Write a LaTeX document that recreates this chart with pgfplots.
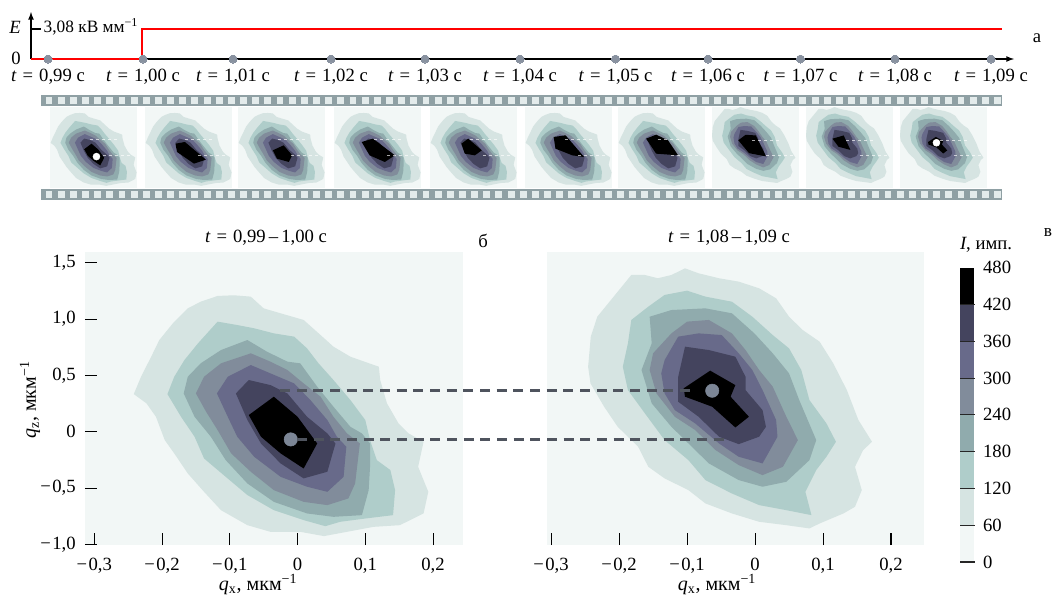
\documentclass[border=0pt]{standalone}
\usepackage{fontspec}
\setmainfont{Liberation Serif}
\usepackage{pgfplots}
\usepackage{pgfplotstable}
\pgfplotsset{compat=1.18}
\definecolor{c0}{HTML}{F2F7F6}
\definecolor{c1}{HTML}{D6E4E2}
\definecolor{c2}{HTML}{AFCDCA}
\definecolor{c3}{HTML}{90ABAD}
\definecolor{c4}{HTML}{818C9B}
\definecolor{c5}{HTML}{686A8A}
\definecolor{c6}{HTML}{44445E}
\definecolor{c7}{HTML}{000000}
\definecolor{stripc}{HTML}{8FA0A4}
\definecolor{squarec}{HTML}{E3EBEB}
\definecolor{dotc}{HTML}{7C8696}
\definecolor{dashc}{HTML}{4F545E}
\newcommand\fs{\fontsize{14}{16}\selectfont}
\newcommand\fl{\fontsize{15}{17}\selectfont}
\newcommand\eq{\hspace{.32em}=\hspace{.32em}}
% left panel contours
\pgfplotstableread{
x y
-.2417 .334
-.231 .488
-.216 .666
-.204 .814
-.184 .962
-.162 1.095
-.143 1.154
-.118 1.205
-.094 1.211
-.069 1.199
-.050 1.095
-.025 1.051
.009 .992
.034 .858
.053 .755
.078 .666
.120 .577
.122 .459
.132 .252
.149 .074
.164 -.015
.186 -.089
.178 -.311
.193 -.533
.186 -.725
.151 -.829
.112 -.844
.073 -.888
.039 -.926
.004 -.888
-.040 -.888
-.074 -.829
-.113 -.696
-.138 -.533
-.162 -.370
-.182 -.192
-.196 -.074
-.209 .133
-.223 .252
}\LA
\pgfplotstableread{
x y
-.192 .334
-.182 .488
-.167 .636
-.147 .784
-.118 .977
-.089 .947
-.064 .918
-.035 .873
-.005 .844
.014 .740
.031 .607
.053 .459
.078 .281
.100 .104
.107 -.074
.117 -.252
.137 -.340
.144 -.518
.141 -.740
.100 -.770
.063 -.799
.041 -.838
.009 -.784
-.035 -.696
-.074 -.562
-.106 -.400
-.138 -.237
-.152 -.044
-.172 .133
}\LB
\pgfplotstableread{
x y
-.168 .340
-.162 .488
-.143 .607
-.113 .725
-.074 .814
-.045 .710
-.015 .622
.004 .607
.029 .400
.053 .222
.078 .044
.095 -.015
.107 -.104
.107 -.311
.105 -.518
.095 -.740
.053 -.755
.014 -.725
-.035 -.622
-.074 -.459
-.106 -.252
-.128 -.044
-.152 .133
}\LC
\pgfplotstableread{
x y
-.150 .340
-.138 .488
-.113 .607
-.069 .696
-.040 .622
-.015 .548
.009 .429
.034 .311
.053 .133
.073 -.015
.092 -.104
.085 -.459
.075 -.592
.044 -.651
.009 -.622
-.035 -.518
-.069 -.355
-.098 -.192
-.118 .015
-.135 .178
}\LD
\pgfplotstableread{
x y
-.119 .340
-.103 .488
-.069 .592
-.040 .518
-.005 .429
.019 .281
.044 .104
.058 -.044
.072 -.133
.068 -.400
.044 -.533
.014 -.488
-.025 -.400
-.064 -.222
-.089 -.044
-.103 .133
}\LE
\pgfplotstableread{
x y
-.091 .340
-.072 .459
-.040 .414
-.015 .340
.014 .133
.044 -.015
.056 -.104
.044 -.355
.009 -.414
-.025 -.281
-.054 -.104
-.074 .104
}\LF
\pgfplotstableread{
x y
-.072 .148
-.035 .311
0 .133
.029 -.104
.009 -.326
-.025 -.192
-.054 -.044
}\LG
% right panel contours
\pgfplotstableread{
x y
-.2455 .577
-.2416 .844
-.232 1.021
-.212 1.169
-.182 1.391
-.162 1.391
-.143 1.362
-.123 1.391
-.103 1.450
-.083 1.406
-.053 1.362
-.024 1.332
.006 1.273
.031 1.184
.050 1.021
.070 .903
.095 .799
.115 .607
.135 .370
.152 .104
.172 -.089
.159 -.163
.147 -.311
.157 -.518
.147 -.666
.130 -.725
.095 -.814
.080 -.858
.046 -.829
.006 -.799
-.034 -.725
-.073 -.636
-.098 -.518
-.133 -.414
-.157 -.311
-.172 -.133
-.202 .044
-.222 .222
-.242 .429
}\RA
\pgfplotstableread{
x y
-.1945 .577
-.187 .784
-.182 .992
-.157 1.110
-.133 1.214
-.100 1.252
-.073 1.199
-.034 1.154
-.004 1.021
.026 .858
.050 .740
.068 .548
.080 .281
.105 .074
.119 -.089
.105 -.222
.090 -.340
.074 -.533
.083 -.740
.046 -.696
.006 -.651
-.034 -.548
-.073 -.429
-.098 -.252
-.133 -.074
-.162 .163
-.187 .370
}\RB
\pgfplotstableread{
x y
-.167 .548
-.152 .784
-.155 1.021
-.123 1.080
-.073 1.095
-.034 1.051
-.001 .873
.026 .696
.050 .518
.065 .281
.090 -.074
.080 -.252
.046 -.444
.011 -.488
-.024 -.429
-.068 -.281
-.093 -.133
-.123 .044
-.152 .252
}\RC
\pgfplotstableread{
x y
-.155 .548
-.150 .696
-.123 .873
-.100 .977
-.068 .992
-.034 .873
-.014 .725
.006 .548
.026 .400
.046 .133
.063 -.074
.041 -.311
.011 -.385
-.024 -.296
-.058 -.163
-.088 .015
-.118 .133
-.145 .340
}\RD
\pgfplotstableread{
x y
-.138 .518
-.133 .636
-.113 .844
-.083 .873
-.049 .858
-.024 .696
-.004 .548
.011 .370
.031 .104
.033 -.044
.011 -.281
-.024 -.222
-.053 -.104
-.088 .074
-.118 .192
-.133 .340
}\RE
\pgfplotstableread{
x y
-.103 .755
-.068 .725
-.029 .666
-.014 .488
-.014 .370
.011 .192
.016 .044
.006 -.044
-.024 -.110
-.053 -.044
-.083 .133
-.113 .266
-.113 .488
}\RF
\pgfplotstableread{
x y
-.105 .385
-.066 .542
-.029 .414
-.036 .311
-.009 .133
-.029 .038
-.063 .222
-.103 .311
}\RG
% black cores of the middle film frames
\pgfplotstableread{
x y
-.091 .311
-.043 .360
.063 -.158
.003 -.275
-.083 .067
}\FB
\pgfplotstableread{
x y
-.069 .116
-.014 .262
.029 -.031
.012 -.226
-.048 -.128
}\FC
\pgfplotstableread{
x y
-.105 .360
-.048 .458
.063 -.031
.012 -.226
-.065 -.031
}\FD
\pgfplotstableread{
x y
-.086 .311
-.052 .458
.017 .116
-.018 -.031
-.069 .018
}\FE
\pgfplotstableread{
x y
-.100 .507
-.040 .556
.054 -.080
-.006 -.031
-.091 .165
}\FF
\pgfplotstableread{
x y
-.103 .458
-.052 .575
.008 .409
.059 -.031
-.052 .018
}\FG
\pgfplotstableread{
x y
-.114 .440
-.077 .605
-.026 .586
.025 -.050
-.060 .048
}\FH
\pgfplotstableread{
x y
-.113 .488
-.057 .586
-.023 .146
-.083 .244
}\FI
% film perforations
\pgfplotstableread{
x a b
49 100.5 194.5
61.2 100.5 194.5
73.3 100.5 194.5
85.5 100.5 194.5
97.6 100.5 194.5
109.8 100.5 194.5
122 100.5 194.5
134.1 100.5 194.5
146.3 100.5 194.5
158.4 100.5 194.5
170.6 100.5 194.5
182.8 100.5 194.5
194.9 100.5 194.5
207.1 100.5 194.5
219.2 100.5 194.5
231.4 100.5 194.5
243.6 100.5 194.5
255.7 100.5 194.5
267.9 100.5 194.5
280 100.5 194.5
292.2 100.5 194.5
304.4 100.5 194.5
316.5 100.5 194.5
328.7 100.5 194.5
340.8 100.5 194.5
353 100.5 194.5
365.2 100.5 194.5
377.3 100.5 194.5
389.5 100.5 194.5
401.6 100.5 194.5
413.8 100.5 194.5
426 100.5 194.5
438.1 100.5 194.5
450.3 100.5 194.5
462.4 100.5 194.5
474.6 100.5 194.5
486.8 100.5 194.5
498.9 100.5 194.5
511.1 100.5 194.5
523.2 100.5 194.5
535.4 100.5 194.5
547.6 100.5 194.5
559.7 100.5 194.5
571.9 100.5 194.5
584 100.5 194.5
596.2 100.5 194.5
608.4 100.5 194.5
620.5 100.5 194.5
632.7 100.5 194.5
644.8 100.5 194.5
657 100.5 194.5
669.2 100.5 194.5
681.3 100.5 194.5
693.5 100.5 194.5
705.6 100.5 194.5
717.8 100.5 194.5
730 100.5 194.5
742.1 100.5 194.5
754.3 100.5 194.5
766.4 100.5 194.5
778.6 100.5 194.5
790.8 100.5 194.5
802.9 100.5 194.5
815.1 100.5 194.5
827.2 100.5 194.5
839.4 100.5 194.5
851.6 100.5 194.5
863.7 100.5 194.5
875.9 100.5 194.5
888 100.5 194.5
900.2 100.5 194.5
912.4 100.5 194.5
924.5 100.5 194.5
936.7 100.5 194.5
948.8 100.5 194.5
961 100.5 194.5
973.2 100.5 194.5
985.3 100.5 194.5
997.5 100.5 194.5
}\Perf
\newcommand\levelsL{%
\addplot[fill=c1,draw=none] table {\LA};
\addplot[fill=c2,draw=none] table {\LB};
\addplot[fill=c3,draw=none] table {\LC};
\addplot[fill=c4,draw=none] table {\LD};
\addplot[fill=c5,draw=none] table {\LE};
\addplot[fill=c6,draw=none] table {\LF};}
\newcommand\levelsR{%
\addplot[fill=c1,draw=none] table {\RA};
\addplot[fill=c2,draw=none] table {\RB};
\addplot[fill=c3,draw=none] table {\RC};
\addplot[fill=c4,draw=none] table {\RD};
\addplot[fill=c5,draw=none] table {\RE};
\addplot[fill=c6,draw=none] table {\RF};}
\pgfplotsset{
 fr/.style={scale only axis,width=65.25pt,height=60.75pt,hide axis,clip=true,anchor=south west,
   axis background/.style={fill=c0}},
 frL/.style={fr,xmin=-.245,xmax=.195,ymin=-.989,ymax=1.386},
 frR/.style={fr,xmin=-.2455,xmax=.19,ymin=-1.01,ymax=1.45},
 wd/.style={white,opacity=.65,line width=.8pt,dash pattern=on 2.5pt off 2pt},
 main/.style={scale only axis,height=219.75pt,anchor=south west,
   ymin=-1.005,ymax=1.595,axis line style={draw=none},axis on top,
   tick style={black,line width=.8pt},tick align=inside,major tick length=9pt,
   xtick pos=bottom,ytick pos=left,
   xtick={-.3,-.2,-.1,0,.1,.2},
   xticklabels={{−\kern1pt0,3},{−\kern1pt0,2},{−\kern1pt0,1},{0},{0,1},{0,2}},
   tick label style={font=\fs},label style={font=\fl},
   xticklabel style={yshift=-6.5pt},
   yticklabel style={xshift=-3.5pt},
   title style={font=\fs},
   axis background/.style={fill=c0}},
}
\newcommand\whitedash{%
\addplot[wd] coordinates {(-.045,.428)(.100,.428)};
\addplot[wd] coordinates {(.023,-.031)(.169,-.031)};}
\newcommand\frameL[2]{%
\begin{axis}[frL,at={(#1,304.5pt)}]
\levelsL
\addplot[fill=c7,draw=none] table {#2};
\whitedash
\end{axis}}
\newcommand\frameR[2]{%
\begin{axis}[frR,at={(#1,304.5pt)}]
\levelsR
\addplot[fill=c7,draw=none] table {#2};
\whitedash
\end{axis}}
\begin{document}
\begin{tikzpicture}
\path[use as bounding box] (0,0) rectangle (793.5pt,445.5pt);
% film frames
\begin{axis}[frL,at={(37.5pt,304.5pt)}]
\levelsL
\addplot[fill=c7,draw=none] table {\LG};
\addplot[only marks,mark=*,mark size=2.6pt,mark options={draw=white,fill=white}] coordinates {(-.010,-.068)};
\whitedash
\end{axis}
\frameL{108.75pt}{\FB}
\frameL{178.5pt}{\FC}
\frameL{250.5pt}{\FD}
\frameL{322.5pt}{\FE}
\frameL{393.75pt}{\FF}
\frameL{463.5pt}{\FG}
\frameR{534pt}{\FH}
\frameR{604.5pt}{\FI}
\begin{axis}[frR,at={(675pt,304.5pt)}]
\levelsR
\addplot[fill=c7,draw=none] table {\RG};
\addplot[only marks,mark=*,mark size=2.6pt,mark options={draw=white,fill=white}] coordinates {(-.063,.364)};
\whitedash
\end{axis}
% left panel
\begin{axis}[main,at={(63.75pt,36.75pt)},width=283.5pt,
  xmin=-.3137,xmax=.2442,
  ytick={-1,-.5,0,.5,1,1.5},
  yticklabels={{−\kern1pt1,0},{−\kern1pt0,5},{0},{0,5},{1,0},{1,5}},
  title={\textit{t}\eq0,99\,–\,1,00 с},
  title style={at={(axis description cs:.479,1.02)},anchor=center},
  xlabel={\textit{q}\textsubscript{x}, мкм\textsuperscript{−1}},
  xlabel style={at={(axis description cs:.458,-.134)},anchor=center},
  ylabel={\textit{q}\textsubscript{z}, мкм\textsuperscript{−1}},
  ylabel style={at={(axis description cs:-.1455,.495)},anchor=center},
]
\levelsL
\addplot[fill=c7,draw=none] table {\LG};
\addplot[only marks,mark=*,mark size=5pt,mark options={draw=dotc,fill=dotc}] coordinates {(-.010,-.068)};
\end{axis}
% right panel
\begin{axis}[main,at={(410.25pt,36.75pt)},width=282.75pt,
  xmin=-.306,xmax=.2485,
  ytick=\empty,
  title={\textit{t}\eq1,08\,–\,1,09 с},
  title style={at={(axis description cs:.483,1.02)},anchor=center},
  xlabel={\textit{q}\textsubscript{x}, мкм\textsuperscript{−1}},
  xlabel style={at={(axis description cs:.451,-.134)},anchor=center},
]
\levelsR
\addplot[fill=c7,draw=none] table {\RG};
\addplot[only marks,mark=*,mark size=5pt,mark options={draw=dotc,fill=dotc}] coordinates {(-.063,.364)};
\end{axis}
% colour bar
\begin{axis}[scale only axis,at={(720pt,24pt)},anchor=south west,width=10.8pt,height=220.7pt,
  xmin=0,xmax=1,ymin=0,ymax=480,xtick=\empty,axis line style={draw=none},axis on top,
  ytick={0,60,120,180,240,300,360,420},
  yticklabels={0,60,120,180,240,300,360,420},
  ytick pos=left,yticklabel pos=right,tick align=inside,major tick length=11pt,
  tick style={black!85,line width=.8pt},
  extra y ticks={480},extra y tick labels={480},extra y tick style={major tick length=0pt},
  tick label style={font=\fs},
  yticklabel style={anchor=west,xshift=3pt},
  clip=false]
\addplot[fill=c0,draw=none] coordinates {(0,0)(1,0)(1,60)(0,60)};
\addplot[fill=c1,draw=none] coordinates {(0,60)(1,60)(1,120)(0,120)};
\addplot[fill=c2,draw=none] coordinates {(0,120)(1,120)(1,180)(0,180)};
\addplot[fill=c3,draw=none] coordinates {(0,180)(1,180)(1,240)(0,240)};
\addplot[fill=c4,draw=none] coordinates {(0,240)(1,240)(1,300)(0,300)};
\addplot[fill=c5,draw=none] coordinates {(0,300)(1,300)(1,360)(0,360)};
\addplot[fill=c6,draw=none] coordinates {(0,360)(1,360)(1,420)(0,420)};
\addplot[fill=c7,draw=none] coordinates {(0,420)(1,420)(1,480)(0,480)};
\end{axis}
% top timeline, film strips, connecting dashes and letters, on a pixel grid
\begin{axis}[scale only axis,at={(0,0)},anchor=south west,width=793.5pt,height=445.5pt,
  xmin=0,xmax=1058,ymin=0,ymax=594,y dir=reverse,hide axis,clip=false]
\addplot[fill=stripc,draw=none] coordinates {(41,95)(1002,95)(1002,106)(41,106)};
\addplot[fill=stripc,draw=none] coordinates {(41,189)(1002,189)(1002,200)(41,200)};
\addplot[only marks,mark=square*,mark size=2.2pt,mark options={draw=squarec,fill=squarec,line width=0pt}] table[x=x,y=a] {\Perf};
\addplot[only marks,mark=square*,mark size=2.2pt,mark options={draw=squarec,fill=squarec,line width=0pt}] table[x=x,y=b] {\Perf};
\addplot[black,line width=1pt,-latex] coordinates {(31,59)(1014,59)};
\addplot[black,line width=1pt,-latex] coordinates {(31,59)(31,12)};
\addplot[black,line width=.8pt] coordinates {(31,29)(41,29)};
\addplot[red,line width=1.9pt] coordinates {(31,59)(142,59)(142,29)(1002,29)};
\addplot[only marks,mark=*,mark size=3pt,mark options={draw=dotc!90!white,fill=dotc!90!white,line width=0pt}] coordinates {
 (48,59)(143,59)(233,59)(331,59)(425,59)(520,59)(615.5,59)(708,59)(800.5,59)(895,59)(991,59)};
\addplot[draw=dashc,line width=1.9pt,dash pattern=on 7.5pt off 5pt] coordinates {(280,390.7)(695,390.7)};
\addplot[draw=dashc,line width=1.9pt,dash pattern=on 7.5pt off 5pt] coordinates {(297,439.3)(727,439.3)};
\node[font=\fs\itshape] at (axis cs:15,27) {E};
\node[font=\fs] at (axis cs:16,58) {0};
\node[font=\fontsize{13}{15}\selectfont,anchor=west] at (axis cs:39,27) {3,08 кВ мм\textsuperscript{−1}};
\node[font=\fs] at (axis cs:48,77) {\textit{t}\eq0,99 с};
\node[font=\fs] at (axis cs:143,77) {\textit{t}\eq1,00 с};
\node[font=\fs] at (axis cs:233,77) {\textit{t}\eq1,01 с};
\node[font=\fs] at (axis cs:331,77) {\textit{t}\eq1,02 с};
\node[font=\fs] at (axis cs:425,77) {\textit{t}\eq1,03 с};
\node[font=\fs] at (axis cs:520,77) {\textit{t}\eq1,04 с};
\node[font=\fs] at (axis cs:615.5,77) {\textit{t}\eq1,05 с};
\node[font=\fs] at (axis cs:708,77) {\textit{t}\eq1,06 с};
\node[font=\fs] at (axis cs:800.5,77) {\textit{t}\eq1,07 с};
\node[font=\fs] at (axis cs:895,77) {\textit{t}\eq1,08 с};
\node[font=\fs] at (axis cs:991,77) {\textit{t}\eq1,09 с};
\node[font=\fs] at (axis cs:1037,38) {а};
\node[font=\fs] at (axis cs:483,241) {б};
\node[font=\fontsize{13}{15}\selectfont] at (axis cs:1048,233) {в};
\node[font=\fs] at (axis cs:986,245) {\textit{I}, имп.};
\end{axis}
\end{tikzpicture}
\end{document}
